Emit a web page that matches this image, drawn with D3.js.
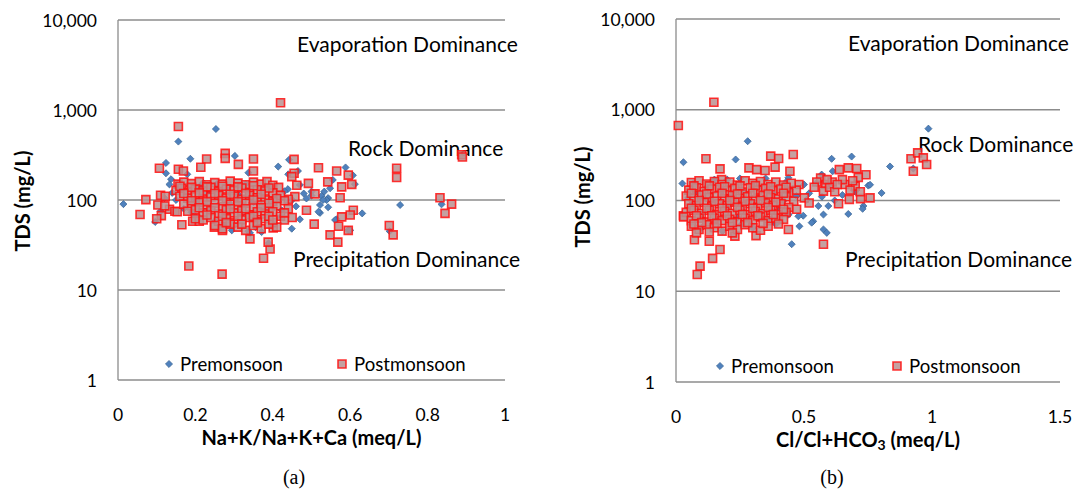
<!DOCTYPE html>
<html>
<head>
<meta charset="utf-8">
<script src="https://cdn.jsdelivr.net/npm/d3@7"></script>
<style>
  body { margin: 0; background: #fff; }
  text { font-family: Lato, "Open Sans", sans-serif; fill: #000; }
</style>
</head>
<body>
<svg id="chart"></svg>
<script>
// ---- data: [ratio, TDS mg/L] ----
const cationPre = [
  [0.014,90],[0.096,57],[0.124,258],[0.124,198],[0.137,170],[0.133,149],[0.156,446],[0.187,287],
  [0.179,193],[0.19,73],[0.253,615],[0.302,309],[0.337,201],[0.414,235],[0.442,280],[0.44,193],
  [0.465,210],[0.439,132],[0.47,147],[0.5,124],[0.526,111],[0.533,124],[0.543,105],[0.539,100],
  [0.548,135],[0.555,167],[0.588,230],[0.607,188],[0.612,150],[0.631,71],[0.595,46],[0.565,61],
  [0.522,72],[0.543,83],[0.47,61],[0.449,48],[0.371,44],[0.389,33],[0.337,45],[0.294,46],
  [0.729,88],[0.702,45],[0.836,89.5],[0.522,88],[0.487,104],[0.423,77],[0.401,100],[0.375,129],
  [0.238,147],[0.341,43],[0.518,74],[0.561,60],[0.6,46],[0.53,100],[0.5,112],
  [0.16,130],[0.18,110],[0.2,95],[0.21,140],[0.23,120],[0.24,80],[0.26,105],[0.27,65],
  [0.28,135],[0.29,90],[0.31,115],[0.32,70],[0.33,150],[0.35,95],[0.36,60],[0.37,120],
  [0.38,80],[0.39,140],[0.4,90],[0.41,110],[0.42,65],[0.2,65],[0.22,155],[0.25,58],
  [0.3,52],[0.34,110],[0.43,125],[0.45,100],[0.46,85],[0.48,118],[0.15,100],[0.14,120],
  [0.17,80],[0.12,105],[0.11,75],[0.255,150],[0.275,55],[0.355,50]
];
const cationPost = [
  [0.42,1205],[0.156,655],[0.277,330],[0.277,290],[0.229,285],[0.214,231],[0.35,286],[0.311,249],
  [0.35,210],[0.455,283],[0.455,198],[0.449,182],[0.518,228],[0.565,210],[0.595,189],[0.604,149],
  [0.578,140],[0.542,159],[0.492,153],[0.462,146],[0.457,109],[0.44,102],[0.487,77],[0.507,54],
  [0.509,117],[0.574,106],[0.608,77],[0.6,68],[0.578,65],[0.57,51],[0.548,41],[0.595,46],
  [0.568,34],[0.72,225],[0.72,178],[0.701,52],[0.711,41],[0.832,106],[0.862,90],[0.845,71],
  [0.888,318],[0.89,300],[0.072,101],[0.057,69],[0.11,113],[0.122,110],[0.103,88],[0.112,67],
  [0.1,62],[0.133,79],[0.147,75],[0.107,225],[0.156,220],[0.169,210],[0.165,53],[0.193,58],
  [0.21,58],[0.183,18.5],[0.269,15],[0.249,50],[0.27,46],[0.376,22.5],[0.393,28.5],[0.388,34],
  [0.341,37],[0.401,49],[0.121,86],[0.153,74],
  [0.155,150],[0.17,158],[0.19,152],[0.21,160],[0.23,148],[0.25,156],[0.27,150],[0.29,162],
  [0.31,154],[0.33,148],[0.35,158],[0.37,150],[0.385,160],[0.40,146],[0.415,138],
  [0.15,128],[0.165,135],[0.18,122],[0.2,132],[0.22,126],[0.24,138],[0.26,124],[0.28,132],
  [0.30,128],[0.32,136],[0.34,122],[0.36,130],[0.38,126],[0.40,120],[0.42,112],
  [0.16,110],[0.18,105],[0.2,114],[0.22,100],[0.24,108],[0.26,112],[0.28,104],[0.3,110],
  [0.32,102],[0.34,112],[0.36,106],[0.38,100],[0.4,96],[0.43,98],
  [0.17,90],[0.19,86],[0.21,94],[0.23,88],[0.25,92],[0.27,84],[0.29,90],[0.31,86],
  [0.33,92],[0.35,84],[0.37,88],[0.39,82],[0.41,86],[0.44,80],
  [0.18,75],[0.2,78],[0.22,72],[0.24,76],[0.26,70],[0.28,78],[0.3,72],[0.32,76],
  [0.34,68],[0.36,74],[0.38,70],[0.40,74],[0.42,66],[0.45,64],
  [0.2,62],[0.22,60],[0.24,64],[0.26,58],[0.28,62],[0.3,56],[0.32,60],[0.34,64],
  [0.36,58],[0.38,62],[0.4,56],[0.43,60],
  [0.25,52],[0.27,48],[0.29,54],[0.31,50],[0.33,46],[0.35,52],[0.37,48],[0.39,54],[0.41,50],
  [0.16,142],[0.19,138],[0.23,140],[0.27,142],[0.31,140],[0.35,144],[0.39,136],
  [0.17,118],[0.21,120],[0.25,118],[0.29,116],[0.33,118],[0.37,116],[0.41,104],
  [0.19,98],[0.23,96],[0.27,98],[0.31,96],[0.35,100],[0.39,92],
  [0.21,82],[0.25,82],[0.29,80],[0.33,80],[0.37,82],[0.43,72],
  [0.23,68],[0.27,66],[0.31,66],[0.35,66],[0.39,66],
  [0.28,56],[0.32,54],[0.36,56],[0.4,60]
];
const anionPre = [
  [0.029,264],[0.025,154],[0.068,154],[0.048,107],[0.28,450],[0.233,283],[0.191,144],[0.608,288],
  [0.686,305],[0.612,210],[0.569,193],[0.55,156],[0.836,237],[0.927,225],[0.986,619],[0.803,121],
  [0.751,146],[0.732,87],[0.729,81],[0.673,71],[0.576,70],[0.556,87],[0.595,87],[0.51,102],
  [0.497,68],[0.536,59],[0.53,57],[0.576,48],[0.589,44],[0.452,33],[0.482,52],[0.478,67],
  [0.471,112],[0.445,132],[0.439,178],[0.181,46],[0.256,54.5],[0.758,149],[0.5,150],[0.52,120],
  [0.65,115],[0.62,100],[0.7,125],[0.57,110],
  [0.06,90],[0.08,120],[0.1,70],[0.12,140],[0.14,100],[0.16,60],[0.18,125],[0.2,85],
  [0.22,110],[0.24,65],[0.26,130],[0.28,95],[0.3,75],[0.32,140],[0.34,105],[0.36,62],
  [0.38,120],[0.4,85],[0.42,100],[0.44,70],[0.1,50],[0.15,170],[0.2,170],[0.25,175],
  [0.3,50],[0.35,175],[0.39,55],[0.43,160]
];
const anionPost = [
  [0.148,1210],[0.009,670],[0.117,288],[0.37,308],[0.401,290],[0.458,321],[0.285,229],[0.315,219],
  [0.348,214],[0.387,233],[0.445,210],[0.172,223],[0.178,170],[0.918,288],[0.944,335],[0.966,295],
  [0.979,249],[0.927,210],[0.439,48],[0.576,33],[0.3125,41],[0.23,40.5],[0.172,28.8],[0.143,23],
  [0.094,18.9],[0.083,15.3],[0.13,35.6],[0.072,37],[0.029,68],[0.501,107],[0.52,94],[0.471,80],
  [0.48,150],[0.47,130],
  [0.565,177],[0.585,150],[0.576,127],[0.61,160],[0.638,219],[0.673,229],[0.706,225],[0.742,192],
  [0.712,180],[0.66,150],[0.7,144],[0.758,107],[0.721,105],[0.677,103],[0.635,92],[0.6,140],
  [0.62,125],[0.65,170],[0.69,165],[0.72,125],[0.59,170],[0.63,150],[0.68,130],[0.55,160],[0.54,140],
  [0.06,158],[0.09,165],[0.12,152],[0.15,162],[0.18,150],[0.21,160],[0.24,148],[0.27,165],
  [0.30,155],[0.33,162],[0.36,150],[0.39,160],[0.42,148],[0.45,155],
  [0.05,130],[0.08,138],[0.11,126],[0.14,134],[0.17,140],[0.2,128],[0.23,136],[0.26,124],
  [0.29,138],[0.32,130],[0.35,136],[0.38,128],[0.41,134],[0.44,122],
  [0.04,112],[0.07,106],[0.1,115],[0.13,108],[0.16,112],[0.19,104],[0.22,114],[0.25,106],
  [0.28,110],[0.31,102],[0.34,114],[0.37,108],[0.4,104],[0.43,110],[0.46,98],
  [0.05,92],[0.08,88],[0.11,95],[0.14,86],[0.17,92],[0.2,88],[0.23,96],[0.26,86],
  [0.29,92],[0.32,84],[0.35,94],[0.38,88],[0.41,92],[0.44,84],
  [0.04,74],[0.07,78],[0.1,72],[0.13,78],[0.16,70],[0.19,76],[0.22,72],[0.25,78],
  [0.28,70],[0.31,76],[0.34,72],[0.37,78],[0.4,70],[0.43,74],
  [0.03,66],[0.06,60],[0.09,64],[0.12,58],[0.15,64],[0.18,60],[0.21,62],[0.24,58],
  [0.27,64],[0.3,60],[0.33,66],[0.36,60],[0.39,64],[0.42,62],
  [0.06,52],[0.09,48],[0.12,54],[0.15,50],[0.18,46],[0.21,52],[0.24,48],[0.27,54],
  [0.3,50],[0.33,47],[0.36,52],[0.4,55],[0.08,44],[0.13,45],[0.22,44],
  [0.07,145],[0.13,145],[0.19,142],[0.25,145],[0.31,146],[0.37,142],[0.43,140],
  [0.06,120],[0.12,118],[0.18,120],[0.24,118],[0.3,120],[0.36,118],[0.42,120],
  [0.09,100],[0.15,98],[0.21,100],[0.27,98],[0.33,100],[0.39,96],
  [0.06,82],[0.12,82],[0.18,82],[0.24,84],[0.3,82],[0.36,84],[0.42,80],
  [0.08,68],[0.14,68],[0.2,68],[0.26,70],[0.32,68],[0.38,70],
  [0.1,57],[0.16,56],[0.22,57],[0.28,57],[0.34,56],[0.07,55]
];

const tdsTicks = [1, 10, 100, 1000, 10000];
const cationTicks = [0, 0.2, 0.4, 0.6, 0.8, 1];
const anionTicks = [0, 0.5, 1, 1.5];
const seriesNames = ['Premonsoon', 'Postmonsoon'];
const zoneNames = ['Evaporation Dominance', 'Rock Dominance', 'Precipitation Dominance'];

const W = 1087, H = 491;
const svg = d3.select('#chart').attr('width', W).attr('height', H);
svg.append('rect').attr('width', W).attr('height', H).attr('fill', '#fff');

const gridColor = '#8c8c8c';
const diamond = d3.symbol(d3.symbolSquare, 25);
const square = d3.symbol(d3.symbolSquare, 64);

function drawPre(g, x, y) {
  g.append('path')
    .attr('d', diamond())
    .attr('transform', `translate(${x},${y}) rotate(45)`)
    .attr('fill', '#4f81bd')
    .attr('stroke', '#3a6595')
    .attr('stroke-width', 0.7);
}
function drawPost(g, x, y) {
  g.append('path')
    .attr('d', square())
    .attr('transform', `translate(${x},${y})`)
    .attr('fill', '#bb9191')
    .attr('fill-opacity', 0.85)
    .attr('stroke', '#ff1010')
    .attr('stroke-opacity', 0.85)
    .attr('stroke-width', 1.6);
}

function drawPanel(p) {
  const x = d3.scaleLinear().domain(p.xDomain).range([p.left, p.right]);
  const y = d3.scaleLog().domain([1, 10000]).range([p.bottom, p.top]);
  const g = svg.append('g');

  // gridlines
  g.selectAll('.grid').data(tdsTicks).enter().append('line')
    .attr('x1', p.left).attr('x2', p.right)
    .attr('y1', d => y(d)).attr('y2', d => y(d))
    .attr('stroke', gridColor).attr('stroke-width', 1.3);
  g.append('line')
    .attr('x1', p.left).attr('x2', p.left)
    .attr('y1', p.top).attr('y2', p.bottom)
    .attr('stroke', gridColor).attr('stroke-width', 1.3);

  // tick labels
  g.selectAll('.ytick').data(tdsTicks).enter().append('text')
    .attr('x', p.left - 21).attr('y', d => y(d))
    .attr('text-anchor', 'end').attr('dominant-baseline', 'central')
    .style('font-size', '17.5px')
    .text(d => d3.format(',')(d));
  g.selectAll('.xtick').data(p.xTicks).enter().append('text')
    .attr('x', d => x(d)).attr('y', p.bottom + 34)
    .attr('text-anchor', 'middle').attr('dominant-baseline', 'central')
    .style('font-size', '17.5px')
    .text(d => String(d));

  // axis titles
  g.append('text')
    .attr('transform', `translate(${p.yTitleX},${p.yTitleY}) rotate(-90)`)
    .attr('text-anchor', 'middle').attr('dominant-baseline', 'central')
    .style('font-size', '20px').style('font-weight', 'bold')
    .text('TDS (mg/L)');
  const xt = g.append('text')
    .attr('x', (p.left + p.right) / 2).attr('y', p.bottom + 57)
    .attr('text-anchor', 'middle').attr('dominant-baseline', 'central')
    .style('font-size', '20px').style('font-weight', 'bold');
  p.xTitle(xt);

  // zone labels
  p.zones.forEach((z, i) => {
    g.append('text')
      .attr('x', z[0]).attr('y', z[1])
      .attr('dominant-baseline', 'central')
      .style('font-size', '21px')
      .text(zoneNames[i]);
  });

  // points
  const pts = g.append('g');
  p.pre.forEach(d => drawPre(pts, x(d[0]), y(d[1])));
  p.post.forEach(d => drawPost(pts, x(d[0]), y(d[1])));

  // legend
  const lg = g.append('g');
  drawPre(lg, p.legend[0], p.legend[1]);
  lg.append('text').attr('x', p.legend[0] + 11).attr('y', p.legend[1])
    .attr('dominant-baseline', 'central').style('font-size', '18.6px').text(seriesNames[0]);
  drawPost(lg, p.legend[2], p.legend[1]);
  lg.append('text').attr('x', p.legend[2] + 12).attr('y', p.legend[1])
    .attr('dominant-baseline', 'central').style('font-size', '18.6px').text(seriesNames[1]);

  // caption
  g.append('text')
    .attr('x', p.capX).attr('y', 477)
    .attr('text-anchor', 'middle').attr('dominant-baseline', 'central')
    .style('font-family', '"Liberation Serif", serif').style('font-size', '20px')
    .text(p.caption);
}

drawPanel({
  left: 118, right: 505, top: 20, bottom: 380,
  xDomain: [0, 1], xTicks: cationTicks,
  pre: cationPre, post: cationPost,
  yTitleX: 22, yTitleY: 201,
  xTitle: t => t.text('Na+K/Na+K+Ca (meq/L)'),
  zones: [[297, 43], [348, 147], [293, 258]],
  legend: [169, 364, 342],
  capX: 294, caption: '(a)'
});

drawPanel({
  left: 676, right: 1060, top: 19, bottom: 382,
  xDomain: [0, 1.5], xTicks: anionTicks,
  pre: anionPre, post: anionPost,
  yTitleX: 582, yTitleY: 197,
  xTitle: t => {
    t.append('tspan').text('Cl/Cl+HCO');
    t.append('tspan').attr('dy', 5).style('font-size', '14px').text('3');
    t.append('tspan').attr('dy', -5).text(' (meq/L)');
  },
  zones: [[848, 42], [918, 143], [845, 258]],
  legend: [720, 366, 897],
  capX: 832, caption: '(b)'
});
</script>
</body>
</html>
